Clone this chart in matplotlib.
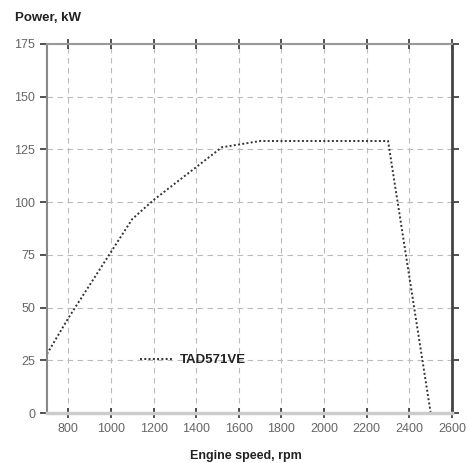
import matplotlib.pyplot as plt

rpm = [700, 800, 1100, 1200, 1520, 1700, 2300, 2500]
power = [28, 45, 92, 101, 126, 129, 129, 0]
xticks = [800, 1000, 1200, 1400, 1600, 1800, 2000, 2200, 2400, 2600]
yticks = [0, 25, 50, 75, 100, 125, 150, 175]

plt.rcParams['font.family'] = ['Liberation Sans', 'DejaVu Sans']

fig = plt.figure(figsize=(4.69, 4.63), dpi=100)
ax = fig.add_axes([47 / 469, 50 / 463, 405 / 469, 369 / 463])

ax.plot(rpm, power, color='#333333', linestyle=(0, (1, 1.2)), linewidth=1.4,
        label='TAD571VE')

ax.set_xlim(700, 2600)
ax.set_ylim(0, 175)
ax.set_xticks(xticks)
ax.set_yticks(yticks)
ax.grid(True, color='#bbbbbb', linestyle=(0, (5, 4)), linewidth=0.8)

ax.tick_params(axis='both', labelsize=9, labelcolor='#666666', color='#333333',
               length=4, width=1.2)
ax.tick_params(axis='x', top=True, direction='inout', length=7)
ax.tick_params(axis='y', right=True, direction='out')
ax.tick_params(axis='y', which='both', length=5)

ax.spines['left'].set_color('#888888')
ax.spines['left'].set_linewidth(1.5)
ax.spines['bottom'].set_color('#cccccc')
ax.spines['bottom'].set_linewidth(2.5)
ax.spines['top'].set_color('#999999')
ax.spines['top'].set_linewidth(1.5)
ax.spines['right'].set_color('#444444')
ax.spines['right'].set_linewidth(2)

ax.set_xlabel('Engine speed, rpm', fontsize=9, fontweight='bold', color='#222222')
ax.xaxis.set_label_coords(0.49, -0.1)
fig.text(15 / 469, 1 - 18 / 463, 'Power, kW', fontsize=9.5, fontweight='bold',
         color='#222222', va='center')

leg = ax.legend(loc='center left', bbox_to_anchor=(0.2, 25 / 175), frameon=False,
                handlelength=2.5, handletextpad=0.5,
                prop={'weight': 'bold', 'size': 9.5})
for t in leg.get_texts():
    t.set_color('#222222')

fig.savefig('out.png', dpi=100)
